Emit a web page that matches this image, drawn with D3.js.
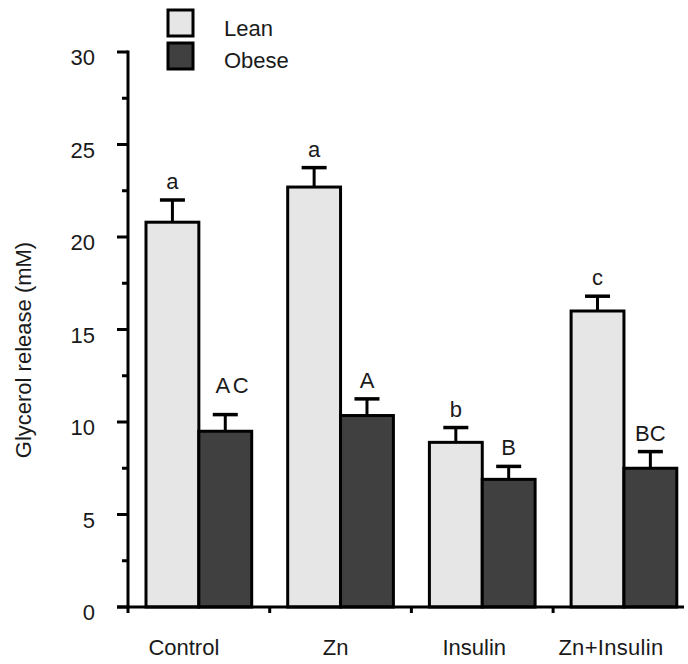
<!DOCTYPE html>
<html>
<head>
<meta charset="utf-8">
<script src="https://cdn.jsdelivr.net/npm/d3@7"></script>
<style>
  html, body { margin: 0; padding: 0; background: #fff; }
  svg { display: block; font-family: "Liberation Sans", Arial, sans-serif; }
</style>
</head>
<body>
<svg id="chart" width="688" height="664"></svg>
<script>
// ---- data ----
const categories = ["Control", "Zn", "Insulin", "Zn+Insulin"];
const seriesNames = ["Lean", "Obese"];
const leanValues = [20.8, 22.7, 8.9, 16.0];
const leanErrors = [1.2, 1.05, 0.8, 0.8];
const obeseValues = [9.5, 10.35, 6.9, 7.5];
const obeseErrors = [0.9, 0.9, 0.7, 0.9];
const leanLabels = ["a", "a", "b", "c"];
const obeseLabels = ["AC", "A", "B", "BC"];
const yTicks = [0, 5, 10, 15, 20, 25, 30];
const yMinorTicks = [2.5, 7.5, 12.5, 17.5, 22.5, 27.5];
const colors = { Lean: "#e6e6e6", Obese: "#404040" };

// ---- layout ----
const svg = d3.select("#chart");
const x0 = 128, yBottom = 607, yTop = 52;
const step = 141.7;
const textColor = "#1a1a1a";
const fs = 22;
const catLabelShift = [-15, -5, -8, -13];

const y = d3.scaleLinear().domain([0, 30]).range([yBottom, yTop]);
const x = d3.scaleBand().domain(categories).range([x0, x0 + step * categories.length]).padding(0);
const xi = d3.scaleBand().domain(seriesNames).range([18, x.bandwidth() - 18]).padding(0);

const rows = [];
categories.forEach((c, i) => {
  rows.push({ cat: c, s: "Lean", v: leanValues[i], e: leanErrors[i], lab: leanLabels[i] });
  rows.push({ cat: c, s: "Obese", v: obeseValues[i], e: obeseErrors[i], lab: obeseLabels[i] });
});

const g = svg.append("g");

// error bars
rows.forEach(d => {
  const cx = x(d.cat) + xi(d.s) + xi.bandwidth() / 2;
  g.append("line").attr("x1", cx).attr("x2", cx)
    .attr("y1", y(d.v)).attr("y2", y(d.v + d.e))
    .attr("stroke", "#000").attr("stroke-width", 3);
  g.append("line").attr("x1", cx - 12.5).attr("x2", cx + 12.5)
    .attr("y1", y(d.v + d.e)).attr("y2", y(d.v + d.e))
    .attr("stroke", "#000").attr("stroke-width", 3.5);
});

// bars
g.selectAll("rect.bar").data(rows).enter().append("rect")
  .attr("class", "bar")
  .attr("x", d => x(d.cat) + xi(d.s))
  .attr("width", xi.bandwidth())
  .attr("y", d => y(d.v))
  .attr("height", d => yBottom - y(d.v))
  .attr("fill", d => colors[d.s])
  .attr("stroke", "#000").attr("stroke-width", 3);

// significance letters
g.selectAll("text.sig").data(rows).enter().append("text")
  .attr("class", "sig")
  .attr("x", d => x(d.cat) + xi(d.s) + xi.bandwidth() / 2 + (d.lab === "AC" ? 8 : 0))
  .attr("y", d => y(d.v + d.e) - (d.lab === "AC" ? 22 : 11))
  .attr("text-anchor", "middle")
  .attr("font-size", fs)
  .attr("letter-spacing", d => d.lab === "AC" ? 2.5 : 0)
  .attr("fill", textColor)
  .text(d => d.lab);

// y axis
const ya = svg.append("g");
ya.append("line").attr("x1", x0).attr("x2", x0).attr("y1", y(30) - 1.5).attr("y2", yBottom + 6)
  .attr("stroke", "#000").attr("stroke-width", 3);
ya.selectAll("line.maj").data(yTicks).enter().append("line")
  .attr("x1", x0 - 11).attr("x2", x0).attr("y1", d => y(d)).attr("y2", d => y(d))
  .attr("stroke", "#000").attr("stroke-width", 3);
ya.selectAll("line.min").data(yMinorTicks).enter().append("line")
  .attr("x1", x0 - 6).attr("x2", x0).attr("y1", d => y(d)).attr("y2", d => y(d))
  .attr("stroke", "#000").attr("stroke-width", 3);
ya.selectAll("text").data(yTicks).enter().append("text")
  .attr("x", x0 - 33).attr("y", d => y(d) + 13)
  .attr("text-anchor", "end").attr("font-size", fs).attr("fill", textColor)
  .text(d => d);

// x axis
const xa = svg.append("g");
xa.append("line").attr("x1", x0 - 11).attr("x2", 684).attr("y1", yBottom).attr("y2", yBottom)
  .attr("stroke", "#000").attr("stroke-width", 3);
xa.selectAll("line.t").data(categories.slice(1)).enter().append("line")
  .attr("x1", d => x(d)).attr("x2", d => x(d)).attr("y1", yBottom).attr("y2", yBottom + 6)
  .attr("stroke", "#000").attr("stroke-width", 3);
xa.selectAll("text").data(categories).enter().append("text")
  .attr("x", (d, i) => x(d) + x.bandwidth() / 2 + catLabelShift[i])
  .attr("y", 655)
  .attr("text-anchor", "middle").attr("font-size", fs).attr("fill", textColor)
  .attr("letter-spacing", d => d === "Zn+Insulin" ? 0.3 : 0)
  .text(d => d);

// y label
svg.append("text")
  .attr("transform", "translate(31,350) rotate(-90)")
  .attr("text-anchor", "middle").attr("font-size", fs).attr("fill", textColor)
  .text("Glycerol release (mM)");

// legend
const lg = svg.append("g");
seriesNames.forEach((s, i) => {
  lg.append("rect").attr("x", 168).attr("y", 10 + i * 33).attr("width", 25).attr("height", 26)
    .attr("fill", colors[s]).attr("stroke", "#000").attr("stroke-width", 3);
  lg.append("text").attr("x", 224).attr("y", 36 + i * 32)
    .attr("font-size", fs).attr("fill", textColor).text(s);
});
</script>
</body>
</html>
